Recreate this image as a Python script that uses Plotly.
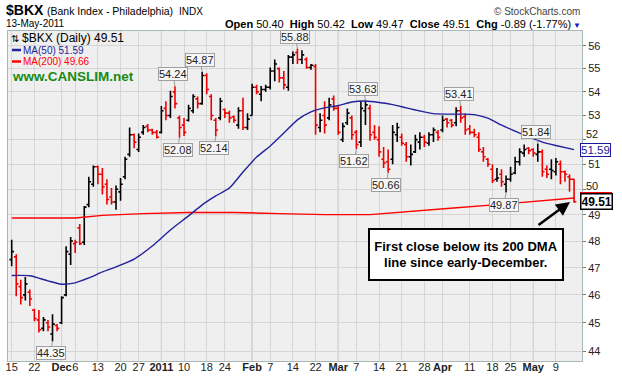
import math
import plotly.graph_objects as go

# ---------------- data ----------------
# trading-day index 1 = 15-Nov-2010 ... 125 = 13-May-2011
OPEN = [47.3, 47.4, 46.3, 46.0, 46.1, 45.45, 45.1, 44.8, 45.0, 44.6,
        44.9, 45.0, 46.0, 47.5, 47.9, 48.5, 47.95, 49.4, 50.2, 50.9,
        50.6, 50.2, 49.7, 49.5, 49.9, 50.5, 51.4, 52.2, 51.6, 52.3,
        52.55, 52.4, 52.3, 52.3, 53.3, 53.0, 54.0, 52.9, 52.6, 52.8,
        53.2, 53.7, 53.5, 54.7, 53.8, 52.8, 52.9, 53.25, 53.1, 52.95,
        52.6, 53.2, 52.5, 53.0, 54.2, 53.9, 54.1, 54.2, 54.9, 55.0,
        54.6, 54.2, 55.5, 55.7, 55.4, 55.4, 55.05, 55.1, 52.5, 53.0,
        52.9, 53.7, 53.3, 52.0, 52.7, 52.9, 52.3, 51.9, 53.2, 53.3,
        52.3, 52.0, 51.2, 51.1, 51.2, 52.2, 52.1, 51.8, 51.3, 51.5,
        51.9, 52.1, 51.85, 52.2, 52.3, 52.4, 52.85, 52.8, 52.7, 53.2,
        52.95, 52.45, 52.3, 52.1, 51.5, 51.2, 50.8, 50.4, 50.6, 50.2,
        50.4, 50.65, 51.1, 51.45, 51.65, 51.6, 51.4, 51.5, 50.8, 50.8,
        50.7, 51.0, 50.7, 50.5, 50.40]
HIGH = [48.05, 47.5, 46.55, 46.65, 46.2, 45.5, 45.45, 45.2, 45.1, 45.3,
        44.95, 45.95, 47.8, 48.15, 48.05, 48.65, 49.35, 50.5, 50.95, 50.95,
        50.85, 50.4, 50.05, 50.15, 50.45, 51.3, 52.5, 52.25, 52.25, 52.6,
        52.65, 52.45, 52.4, 53.4, 53.6, 54.05, 54.24, 53.0, 52.9, 53.45,
        53.9, 53.8, 54.87, 54.8, 53.9, 52.9, 53.75, 53.3, 53.2, 53.0,
        53.35, 53.75, 53.1, 54.35, 54.3, 54.25, 54.3, 55.05, 55.4, 55.05,
        54.9, 55.6, 55.75, 55.88, 55.8, 55.5, 55.2, 55.2, 53.1, 53.6,
        53.75, 53.85, 53.4, 52.7, 53.3, 53.0, 52.4, 53.6, 53.63, 53.45,
        52.6, 52.55, 51.7, 51.6, 52.6, 52.7, 52.25, 51.9, 51.8, 52.2,
        52.3, 52.2, 52.3, 52.5, 52.4, 53.0, 52.9, 52.85, 53.35, 53.41,
        53.1, 52.6, 52.45, 52.3, 51.7, 51.25, 51.0, 50.85, 50.8, 50.55,
        50.9, 51.3, 51.65, 51.8, 51.7, 51.65, 51.84, 51.6, 50.95, 51.2,
        51.25, 51.15, 50.75, 50.6, 50.42]
LOW = [47.05, 45.95, 45.65, 45.8, 45.6, 45.05, 44.65, 44.7, 44.7, 44.35,
       44.7, 44.95, 45.95, 47.1, 47.55, 47.85, 47.85, 49.3, 50.1, 50.2,
       49.8, 49.4, 49.4, 49.2, 49.55, 50.4, 51.3, 51.65, 51.5, 52.2,
       52.3, 52.2, 52.05, 52.25, 52.8, 52.9, 53.3, 52.08, 52.15, 52.75,
       53.1, 53.3, 53.45, 53.9, 52.8, 52.14, 52.8, 52.9, 52.7, 52.7,
       52.45, 52.4, 52.4, 53.0, 53.9, 53.6, 54.0, 54.1, 54.45, 54.4,
       54.1, 54.05, 55.2, 55.2, 55.2, 55.0, 54.95, 52.2, 52.3, 52.25,
       52.8, 53.2, 52.2, 51.9, 52.6, 52.0, 51.62, 51.7, 52.6, 51.95,
       52.0, 51.3, 50.85, 50.66, 51.0, 51.9, 51.75, 51.1, 50.95, 51.45,
       51.6, 51.7, 51.75, 51.9, 51.95, 52.3, 52.5, 52.5, 52.55, 52.7,
       52.2, 52.2, 52.1, 51.5, 51.1, 50.9, 50.25, 50.3, 50.1, 49.87,
       50.3, 50.6, 50.95, 51.3, 51.4, 51.3, 51.1, 50.5, 50.45, 50.4,
       50.55, 50.2, 50.3, 49.9, 49.47]
CLOSE = [47.6, 46.4, 45.9, 46.4, 45.85, 45.15, 44.75, 45.1, 44.85, 44.95,
         44.8, 45.9, 47.6, 48.0, 47.95, 47.9, 49.3, 50.3, 50.9, 50.6,
         50.1, 49.6, 49.5, 50.0, 50.2, 51.2, 52.2, 51.9, 52.1, 52.5,
         52.4, 52.3, 52.1, 53.2, 53.0, 53.8, 53.5, 52.5, 52.3, 53.3,
         53.8, 53.5, 54.7, 54.1, 53.0, 52.4, 53.6, 53.1, 52.9, 52.8,
         53.2, 52.5, 52.85, 54.2, 54.0, 54.1, 54.2, 54.9, 55.2, 54.6,
         54.3, 55.5, 55.6, 55.4, 55.6, 55.05, 55.15, 52.6, 52.8, 52.6,
         53.45, 53.3, 52.3, 52.55, 53.1, 52.2, 51.8, 53.3, 53.45, 52.2,
         52.1, 51.5, 51.05, 50.8, 52.3, 52.5, 51.85, 51.3, 51.4, 52.0,
         52.1, 51.9, 52.2, 52.4, 52.1, 52.8, 52.7, 52.6, 53.2, 52.9,
         52.4, 52.3, 52.2, 51.6, 51.3, 51.0, 50.35, 50.45, 50.3, 50.4,
         50.6, 51.1, 51.5, 51.6, 51.55, 51.45, 51.5, 50.7, 50.6, 50.75,
         51.1, 50.7, 50.6, 50.40, 49.51]
PREV_CLOSE = 47.2
BAR_IDX = list(range(1, len(CLOSE) + 1))

MA50_IDX = [1, 5, 9, 12, 15, 18, 21, 24, 28, 32, 36, 40, 43, 46, 49, 52, 55, 58, 61, 64,
            67, 70, 73, 76, 79, 82, 85, 88, 91, 94, 97, 100, 103, 106, 109, 112, 115, 118, 121, 125]
MA50_VAL = [46.71, 46.70, 46.51, 46.39, 46.44, 46.62, 46.84, 47.03, 47.32, 47.81,
            48.42, 48.96, 49.39, 49.74, 50.05, 50.69, 51.29, 51.74, 52.27, 52.82,
            53.15, 53.32, 53.42, 53.57, 53.61, 53.55, 53.46, 53.32, 53.19, 53.08,
            53.06, 53.06, 53.04, 52.89, 52.60, 52.35, 52.11, 51.90, 51.76, 51.59]
MA200_IDX = [1, 15, 21, 30, 40, 50, 60, 70, 80, 88, 97, 108, 117, 125]
MA200_VAL = [48.88, 48.88, 48.98, 49.05, 49.09, 49.09, 49.05, 49.01, 49.01, 49.11,
             49.25, 49.40, 49.54, 49.66]

TICK_IDX = [1, 6, 12, 15, 20, 25, 29, 34, 39, 44, 48, 54, 58, 63, 68, 73, 77, 82, 87, 92,
            96, 102, 107, 111, 116, 121]
TICK_TEXT = ["15", "22", "<b>Dec</b>", "6", "13", "20", "27", "<b>2011</b>", "10", "18", "24",
             "<b>Feb</b>", "7", "14", "22", "<b>Mar</b>", "7", "14", "21", "28", "<b>Apr</b>",
             "11", "18", "25", "<b>May</b>", "9"]
MONTH_IDX = [12, 34, 54, 73, 96, 116]
PRICE_TICKS = [44, 45, 46, 47, 48, 49, 50, 51, 52, 53, 54, 55, 56]
NUDGED_TICKS = {52: 6, 50: 3}   # labels nudged up (px) to clear the value boxes, as in the reference

# labelled highs / lows: (bar index, value, above?)
CALLOUTS = [(10, 44.35, False), (37, 54.24, True), (38, 52.08, False), (43, 54.87, True),
            (46, 52.14, False), (64, 55.88, True), (77, 51.62, False), (79, 53.63, True),
            (84, 50.66, False), (100, 53.41, True), (110, 49.87, False), (117, 51.84, True)]

# ---------------- geometry helpers ----------------
W, H = 622, 379
L, R, T, B = 8, 582, 31, 361
PW, PH = R - L, B - T


def px(x):
    return (x - L) / PW


def py(y):
    return (B - y) / PH


UP_C, DN_C = "#000000", "#ee0000"
BLUE, RED = "#22229c", "#ff0000"
FONT = "Liberation Sans, Arial, sans-serif"

up_sel, dn_sel = [], []
for i, c in enumerate(CLOSE):
    prev = CLOSE[i - 1] if i else PREV_CLOSE
    (up_sel if c >= prev else dn_sel).append(i)


def ohlc(sel, color):
    return go.Ohlc(
        x=[BAR_IDX[i] for i in sel], open=[OPEN[i] for i in sel], high=[HIGH[i] for i in sel],
        low=[LOW[i] for i in sel], close=[CLOSE[i] for i in sel],
        increasing=dict(line=dict(color=color, width=1.6)),
        decreasing=dict(line=dict(color=color, width=1.6)),
        tickwidth=0.5, hoverinfo="skip", showlegend=False)


fig = go.Figure()
fig.add_trace(go.Scatter(x=MA200_IDX, y=MA200_VAL, mode="lines", line=dict(color=RED, width=1.4),
                         hoverinfo="skip", showlegend=False))
fig.add_trace(go.Scatter(x=MA50_IDX, y=MA50_VAL, mode="lines",
                         line=dict(color=BLUE, width=1.4, shape="spline", smoothing=0.6),
                         hoverinfo="skip", showlegend=False))
fig.add_trace(ohlc(up_sel, UP_C))
fig.add_trace(ohlc(dn_sel, DN_C))

shapes = []
for m in MONTH_IDX:
    shapes.append(dict(type="line", xref="x", yref="paper", x0=m, x1=m, y0=0, y1=1,
                       line=dict(color="#b4b4b4", width=1), layer="between"))
# legend panel background
shapes.append(dict(type="rect", xref="paper", yref="paper", x0=0, x1=px(158), y0=py(84), y1=1,
                   fillcolor="#efefef", line=dict(width=0), layer="between"))
# legend dashes
shapes.append(dict(type="line", xref="paper", yref="paper", x0=px(12), x1=px(21), y0=py(50), y1=py(50),
                   line=dict(color=BLUE, width=2.5)))
shapes.append(dict(type="line", xref="paper", yref="paper", x0=px(12), x1=px(21), y0=py(61.5), y1=py(61.5),
                   line=dict(color=RED, width=2.5)))

ann = []


def text(x, y, s, size, color="#000", anchor="left", family=FONT):
    ann.append(dict(xref="paper", yref="paper", x=px(x), y=py(y), text=s, showarrow=False,
                    xanchor=anchor, yanchor="middle", borderpad=0,
                    font=dict(size=size, color=color, family=family)))


# header
text(5, 10, "<b>$BKX</b>", 14)
text(46, 11, "(Bank Index - Philadelphia)", 10.5)
text(178, 11, "INDX", 10)
text(5, 24, "13-May-2011", 10)
text(581, 11, "© StockCharts.com", 10, "#444", anchor="right")
text(572, 24.5, "<b>Open</b> 50.40  <b>High</b> 50.42  <b>Low</b> 49.47  <b>Close</b> 49.51  <b>Chg</b> -0.89 (-1.77%)",
     11, anchor="right")
text(577, 25, "▼", 8, "#1a1acc", anchor="center")
# legend texts
text(10, 38, "⇅", 10)
text(21, 38, "$BKX (Daily) 49.51", 12)
text(22, 50, "MA(50) 51.59", 10, BLUE)
text(22, 61.5, "MA(200) 49.66", 10, RED)
text(11, 76, "<b>www.CANSLIM.net</b>", 13.5, "#168a16")

# callouts on highs / lows (log axis -> log10 positions)
for idx, val, above in CALLOUTS:
    ann.append(dict(x=idx, y=math.log10(val), xref="x", yref="y", text=f"{val:.2f}", showarrow=True,
                    arrowhead=0, arrowwidth=1, arrowcolor="#9a9a9a", ax=-2, ay=-12 if above else 12,
                    standoff=0, font=dict(size=11, color="#222", family=FONT),
                    bgcolor="#f6f6f6", bordercolor="#a0a0a0", borderwidth=1, borderpad=0))

# price-axis labels that are nudged away from the value boxes
for v, shift in NUDGED_TICKS.items():
    ann.append(dict(xref="paper", yref="y", x=px(585), y=math.log10(v), yshift=shift,
                    text=str(v), showarrow=False, xanchor="left", yanchor="middle", borderpad=0,
                    font=dict(size=11, color="#222", family=FONT)))

# right-hand value boxes (MA(200) box sits mostly behind the close box)
ann.append(dict(xref="paper", yref="y", x=px(580), y=math.log10(MA200_VAL[-1]), yshift=-2, text="49.66",
                showarrow=False, xanchor="left", yanchor="middle", font=dict(size=12, color=RED, family=FONT),
                bgcolor="#ffffff", bordercolor=RED, borderwidth=1, borderpad=0))
ann.append(dict(xref="paper", yref="y", x=px(580), y=math.log10(MA50_VAL[-1]), text="51.59", showarrow=False,
                xanchor="left", yanchor="middle", font=dict(size=11.5, color="#1a1a9a", family=FONT),
                bgcolor="#ffffff", bordercolor="#1a1a9a", borderwidth=1, borderpad=0))
ann.append(dict(xref="paper", yref="y", x=px(580), y=math.log10(CLOSE[-1]), text="<b>49.51</b>",
                showarrow=False, xanchor="left", yanchor="middle", font=dict(size=12, color="#000", family=FONT),
                bgcolor="#ffffff", bordercolor="#000", borderwidth=1.5, borderpad=0))

# comment box and arrow
ann.append(dict(xref="paper", yref="paper", x=px(466), y=py(254.5),
                text="<b>First close below its 200 DMA<br>line since early-December.</b>",
                showarrow=False, xanchor="center", yanchor="middle", width=190, height=47,
                font=dict(size=13, color="#000", family=FONT),
                bgcolor="#ffffff", bordercolor="#000", borderwidth=2, borderpad=1))
ann.append(dict(xref="paper", yref="paper", x=px(570), y=py(202), text="", showarrow=True,
                ax=-33, ay=24, arrowhead=2, arrowsize=1.1, arrowwidth=2.5, arrowcolor="#000"))

fig.update_layout(
    width=W, height=H, autosize=False,
    margin=dict(l=L, r=W - R, t=T, b=H - B, pad=0),
    paper_bgcolor="#ffffff", plot_bgcolor="#efefef",
    font=dict(family=FONT, size=11, color="#222"),
    shapes=shapes, annotations=ann, showlegend=False,
    xaxis=dict(range=[0.184, 126.75], tickmode="array", tickvals=TICK_IDX, ticktext=TICK_TEXT,
               tickangle=0, automargin=False, ticklabelstandoff=-4,
               showgrid=True, gridcolor="#d6d6d6", gridwidth=1, zeroline=False,
               showline=True, linecolor="#a8b6b6", linewidth=1, mirror=True, ticks="",
               tickfont=dict(size=11, color="#222"), rangeslider=dict(visible=False), fixedrange=True),
    yaxis=dict(type="log", range=[1.64008, 1.75327], side="right", tickmode="array",
               tickvals=PRICE_TICKS,
               ticktext=["" if v in NUDGED_TICKS else str(v) for v in PRICE_TICKS], automargin=False,
               showgrid=True, gridcolor="#d6d6d6", gridwidth=1, zeroline=False,
               showline=True, linecolor="#a8b6b6", linewidth=1, mirror=True,
               ticks="outside", ticklen=3, tickcolor="#777",
               tickfont=dict(size=11, color="#222"), fixedrange=True),
)

fig.write_html("out.html", config={"displayModeBar": False, "staticPlot": True},
               post_script="document.body.style.margin='0';document.body.style.overflow='hidden';")
